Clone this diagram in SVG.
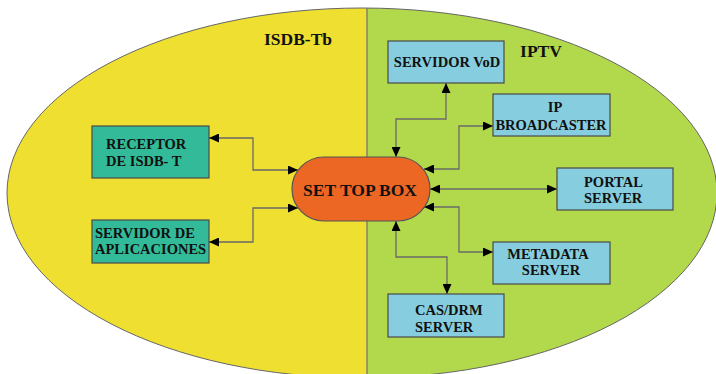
<svg xmlns="http://www.w3.org/2000/svg" width="716" height="374" viewBox="0 0 716 374" font-family="'Liberation Serif', 'DejaVu Serif', serif">
  <style>
    text { font-family: "Liberation Serif", "DejaVu Serif", serif; font-weight: 700; fill: #111; }
    .box-t { font-size: 14.5px; }
    .title { font-size: 17.5px; }
    .green-box { fill: #33BB99; stroke: #4a4a4a; stroke-width: 1.2; }
    .blue-box { fill: #86CEDF; stroke: #4a4a4a; stroke-width: 1.2; }
    .conn { fill: none; stroke: #6a6a6a; stroke-width: 1.3; marker-start: url(#arrow); marker-end: url(#arrow); }
  </style>
  <defs>
    <marker id="arrow" markerUnits="userSpaceOnUse" markerWidth="10" markerHeight="9" refX="10" refY="4.5" orient="auto-start-reverse">
      <path d="M0,0 L10,4.5 L0,9 z" fill="#000"/>
    </marker>
    <clipPath id="left-half"><rect x="0" y="0" width="367" height="374"/></clipPath>
    <clipPath id="right-half"><rect x="367" y="0" width="349" height="374"/></clipPath>
  </defs>

  <rect width="716" height="374" fill="#ffffff"/>

  <!-- background domains -->
  <g id="domains">
    <ellipse cx="362" cy="193" rx="355" ry="185" fill="#EEDF30" clip-path="url(#left-half)"/>
    <ellipse cx="362" cy="193" rx="355" ry="185" fill="#B2D84B" clip-path="url(#right-half)"/>
    <ellipse cx="362" cy="193" rx="355" ry="185" fill="none" stroke="#666" stroke-width="1"/>
    <line x1="367" y1="8" x2="367" y2="374" stroke="#777" stroke-width="1.3"/>
    <text class="title" x="298" y="45" text-anchor="middle">ISDB-Tb</text>
    <text class="title" x="541" y="57" text-anchor="middle">IPTV</text>
  </g>

  <!-- connectors -->
  <g id="connectors">
    <path class="conn" d="M209,138 H253 V170 H298"/>
    <path class="conn" d="M209,242 H253 V208 H298"/>
    <path class="conn" d="M446,83 V119 H396 V157"/>
    <path class="conn" d="M493,126 H459 V169 H424"/>
    <path class="conn" d="M430,189 H557"/>
    <path class="conn" d="M424,207 H459 V252 H493"/>
    <path class="conn" d="M396,221 V257 H447 V294"/>
  </g>

  <g id="receptor">
    <rect class="green-box" x="92" y="126" width="117" height="52"/>
    <text class="box-t" x="106" y="149">RECEPTOR</text>
    <text class="box-t" x="106" y="166">DE ISDB- T</text>
  </g>

  <g id="servidor-aplicaciones">
    <rect class="green-box" x="92" y="220" width="117" height="43"/>
    <text class="box-t" x="95" y="238">SERVIDOR DE</text>
    <text class="box-t" x="95" y="254">APLICACIONES</text>
  </g>

  <g id="set-top-box">
    <rect x="292" y="157" width="138" height="64" rx="32" ry="32" fill="#EC6723" stroke="#555" stroke-width="1.2"/>
    <text x="360" y="196" font-size="17.5" text-anchor="middle">SET TOP BOX</text>
  </g>

  <g id="servidor-vod">
    <rect class="blue-box" x="388" y="41" width="116" height="42"/>
    <text class="box-t" x="447" y="67" text-anchor="middle">SERVIDOR VoD</text>
  </g>

  <g id="ip-broadcaster">
    <rect class="blue-box" x="493" y="94" width="117" height="42"/>
    <text class="box-t" x="555" y="112" text-anchor="middle">IP</text>
    <text class="box-t" x="551" y="130" text-anchor="middle">BROADCASTER</text>
  </g>

  <g id="portal-server">
    <rect class="blue-box" x="557" y="168" width="116" height="42"/>
    <text class="box-t" x="584" y="187">PORTAL</text>
    <text class="box-t" x="584" y="203">SERVER</text>
  </g>

  <g id="metadata-server">
    <rect class="blue-box" x="493" y="242" width="117" height="42"/>
    <text class="box-t" x="548" y="259" text-anchor="middle">METADATA</text>
    <text class="box-t" x="551" y="275" text-anchor="middle">SERVER</text>
  </g>

  <g id="cas-drm-server">
    <rect class="blue-box" x="388" y="294" width="116" height="43"/>
    <text class="box-t" x="415" y="315">CAS/DRM</text>
    <text class="box-t" x="415" y="332">SERVER</text>
  </g>
</svg>
